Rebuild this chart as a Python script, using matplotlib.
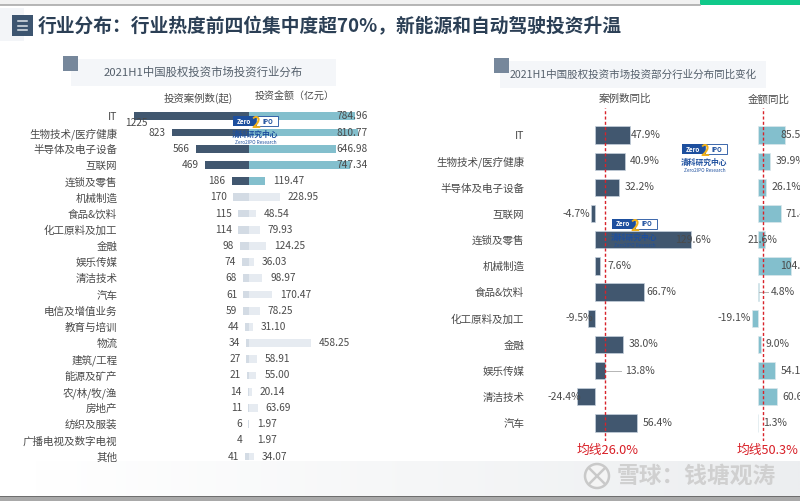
import matplotlib
matplotlib.use("Agg")
import matplotlib.pyplot as plt
from matplotlib.patches import Rectangle, Circle
import numpy as np

plt.rcParams["font.family"] = ["Noto Sans CJK SC", "DejaVu Sans"]

W, H = 800, 501

title = "行业分布：行业热度前四位集中度超70%，新能源和自动驾驶投资升温"
left_title = "2021H1中国股权投资市场投资行业分布"
right_title = "2021H1中国股权投资市场投资部分行业分布同比变化"

industries = ["IT", "生物技术/医疗健康", "半导体及电子设备", "互联网", "连锁及零售", "机械制造",
              "食品&饮料", "化工原料及加工", "金融", "娱乐传媒", "清洁技术", "汽车",
              "电信及增值业务", "教育与培训", "物流", "建筑/工程", "能源及矿产", "农/林/牧/渔",
              "房地产", "纺织及服装", "广播电视及数字电视", "其他"]
cases = [1225, 823, 566, 469, 186, 170, 115, 114, 98, 74, 68, 61, 59, 44, 34, 27, 21, 14, 11, 6, 4, 41]
amounts = [784.96, 810.77, 646.98, 747.34, 119.47, 228.95, 48.54, 79.93, 124.25, 36.03, 98.97,
           170.47, 78.25, 31.10, 458.25, 58.91, 55.00, 20.14, 63.69, 1.97, 1.97, 34.07]

yoy_industries = industries[:12]
cases_yoy = [47.9, 40.9, 32.2, -4.7, 129.6, 7.6, 66.7, -9.5, 38.0, 13.8, -24.4, 56.4]
amount_yoy = [85.5, 39.9, 26.1, 71.4, 21.6, 104.5, 4.8, -19.1, 9.0, 54.1, 60.6, 1.3]

# where the dashed lines sit in the picture, and what they are labelled
cases_line_pos = 13.5
amount_line_pos = 17.5
cases_line_label = "均线26.0%"
amount_line_label = "均线50.3%"

DARK = "#41576f"
TEAL = "#83bfcd"
TEXT = "#4a4a4a"
NAVY = "#2b3f55"

fig = plt.figure(figsize=(W / 100, H / 100), dpi=100)


def px_axes(x0, x1, y_top, y_bottom, zero_px, scale, row0, step):
    ax = fig.add_axes([x0 / W, 1 - y_bottom / H, (x1 - x0) / W, (y_bottom - y_top) / H])
    ax.set_xlim((x0 - zero_px) / scale, (x1 - zero_px) / scale)
    ax.set_ylim((y_bottom - row0) / step, (y_top - row0) / step)
    ax.patch.set_alpha(0)
    for s in ax.spines.values():
        s.set_visible(False)
    ax.set_xticks([])
    ax.set_yticks([])
    return ax


# page furniture
bg = fig.add_axes([0, 0, 1, 1], zorder=0)
bg.set_xlim(0, W)
bg.set_ylim(H, 0)
bg.axis("off")
bg.add_patch(Rectangle((0, 0), 700, 5, color="#f1f1f1", lw=0))
bg.plot([0, 700], [5, 5], color="#a9a9a9", lw=1.2)
bg.add_patch(Rectangle((700, 0), 100, 5, color="#10c98a", lw=0))
bg.add_patch(Rectangle((0, 8), 24, 33, color="#f3f5f8", lw=0))
bg.add_patch(Rectangle((12, 15), 21, 21, color="#3d5570", lw=0))
for yy in [21, 25.5, 30]:
    bg.plot([18, 27], [yy, yy], color="#dfe5ea", lw=1.1)
bg.text(38, 27, title, fontsize=13.5, fontweight="bold", color=NAVY, va="center", ha="left")

bg.add_patch(Rectangle((71, 59), 265, 27, color="#f4f6f9", lw=0))
bg.add_patch(Rectangle((63, 56), 15, 15, color="#76879b", lw=0))
bg.text(203.5, 72.5, left_title, fontsize=8.2, color="#55606c", ha="center", va="center")
bg.add_patch(Rectangle((500, 61), 266, 27, color="#f4f6f9", lw=0))
bg.add_patch(Rectangle((494, 58), 15, 15, color="#76879b", lw=0))
bg.text(633.5, 75, right_title, fontsize=7.6, color="#55606c", ha="center", va="center")

bg.text(198, 98, "投资案例数(起)", fontsize=7.5, color=TEXT, ha="center", va="center")
bg.text(295, 97, "投资金额（亿元）", fontsize=7.2, color=TEXT, ha="center", va="center")
bg.text(625, 99, "案例数同比", fontsize=7.6, color=TEXT, ha="center", va="center")
bg.text(769, 100, "金额同比", fontsize=7.6, color=TEXT, ha="center", va="center")

# watermark band and bottom edge
band = np.linspace(0, 1, 256).reshape(1, -1)
bg.imshow(band, extent=(35, 800, 497, 461), cmap=matplotlib.colors.LinearSegmentedColormap.from_list(
    "wm", ["#ffffff", "#eceef0"]), aspect="auto", zorder=0)
bg.set_xlim(0, W)
bg.set_ylim(H, 0)
bg.add_patch(Rectangle((0, 496), W, 5, color="#a9a9a9", lw=0, zorder=1))
bg.plot([0, W], [495.5, 495.5], color="#6d6d6d", lw=0.7, zorder=1)

# left panel, cases run leftwards from the same zero as the amounts
row0, step = 116.3, 16.2
rows = np.arange(len(industries))
ax_c = px_axes(120, 249, 105, 465, 249, 0.0939, row0, step)
ax_a = px_axes(249, 400, 105, 465, 249, 0.1346, row0, step)
case_colors = [DARK] * 5 + ["#d3dbe4"] * 17
amount_colors = [TEAL] * 5 + ["#e6ebf1"] * 17
ax_c.barh(rows, [-v for v in cases], height=0.47, color=case_colors)
ax_a.barh(rows, amounts, height=0.47, color=amount_colors)
ax_c.set_yticks(rows, industries, fontsize=7.6, color=TEXT)
ax_c.tick_params(axis="y", length=0, pad=2)

for i, v in enumerate(cases):
    if i == 0:
        ax_c.annotate(str(v), (-v, i), xytext=(2, -7), textcoords="offset pixels", fontsize=7.3,
                      color=TEXT, ha="center", va="center", annotation_clip=False)
    else:
        ax_c.annotate(str(v), (-v, i), xytext=(-6, 0), textcoords="offset pixels", fontsize=7.3,
                      color=TEXT, ha="right", va="center", annotation_clip=False)
amount_gap = {0: -18.7, 1: -22, 2: 0, 3: -13.6}
for i, v in enumerate(amounts):
    ax_a.annotate(f"{v:.2f}", (v, i), xytext=(amount_gap.get(i, 8), 0), textcoords="offset pixels",
                  fontsize=7.3, color=TEXT, ha="left", va="center", annotation_clip=False)

# right panel
r_row0, r_step = 135, 26.18
r_rows = np.arange(len(yoy_industries))
ax_cy = px_axes(527, 700, 108, 441, 594.7, 0.743, r_row0, r_step)
ax_ay = px_axes(700, 800, 108, 441, 757.7, 0.32, r_row0, r_step)
ax_cy.barh(r_rows, cases_yoy, height=0.66, color=DARK, edgecolor="#c5d0dc", linewidth=0.5)
ax_ay.barh(r_rows, amount_yoy, height=0.66, color=TEAL, edgecolor="#dbe7ec", linewidth=0.5)
ax_cy.set_yticks(r_rows, yoy_industries, fontsize=7.6, color=TEXT)
ax_cy.tick_params(axis="y", length=0, pad=2)

for ax, pos in [(ax_cy, cases_line_pos), (ax_ay, amount_line_pos)]:
    ax.axvline(pos, color="#d8232a", lw=1.0, ls=(0, (2.2, 1.6)), zorder=5)

case_gap = [1, 5, 6, 1, -16, 6.7, 2, -5.7, 6, 20, -4.5, 5.7]
amount_y_gap = [-5, 5.5, 5.7, 5, -16.6, -11, 11.5, 1, 5.4, 5.5, 5, 5]
for ax, vals, gaps in [(ax_cy, cases_yoy, case_gap), (ax_ay, amount_yoy, amount_y_gap)]:
    for i, v in enumerate(vals):
        g = gaps[i]
        ax.annotate(f"{v:.1f}%", (v, i), xytext=(g if v >= 0 else -g, 0), textcoords="offset pixels",
                    fontsize=7.5, color=TEXT, ha="left" if v >= 0 else "right", va="center",
                    annotation_clip=False, zorder=6)

# thin leader lines to the labels that sit away from their bars
ax_cy.plot([13.8, 36], [9, 9], color="#b5b5b5", lw=0.7, zorder=4)
ax_ay.plot([4.8, 33], [6, 6], color="#b5b5b5", lw=0.7, zorder=4)

# overlay: line captions, logos and watermark text
top = fig.add_axes([0, 0, 1, 1], zorder=10)
top.set_xlim(0, W)
top.set_ylim(H, 0)
top.axis("off")
top.patch.set_alpha(0)
top.text(608, 450, cases_line_label, fontsize=9.2, color="#d81e26", ha="center", va="center")
top.text(767, 450, amount_line_label, fontsize=9.2, color="#d81e26", ha="center", va="center")


def logo(x, y):
    top.add_patch(Rectangle((x, y), 23, 10, color="#1d4f9e", lw=0))
    top.add_patch(Rectangle((x + 23, y), 22, 10, facecolor="#ffffff", edgecolor="#1d4f9e", lw=0.6))
    top.text(x + 11, y + 5, "Zero", fontsize=4.6, fontweight="bold", style="italic", color="white",
             ha="center", va="center")
    top.text(x + 35, y + 5, "IPO", fontsize=4.4, fontweight="bold", color="#1d4f9e",
             ha="center", va="center")
    top.text(x + 23, y + 7, "2", fontsize=11, fontweight="bold", color="#f2b21b",
             ha="center", va="center")
    top.text(x + 22.5, y + 18, "清科研究中心", fontsize=5.6, fontweight="bold", color="#1d4f9e",
             ha="center", va="center")
    top.text(x + 22.5, y + 26, "Zero2IPO Research", fontsize=3.4, color="#1d4f9e",
             ha="center", va="center")


logo(233, 116)
logo(682, 144)
logo(612, 219)

top.add_patch(Circle((597, 476), 12, facecolor="#f4f4f4", edgecolor="#c9c9c9", lw=1.8))
top.plot([590, 604], [469, 483], color="#c9c9c9", lw=1.8)
top.plot([590, 604], [483, 469], color="#c9c9c9", lw=1.8)
top.text(617, 476, "雪球：钱塘观涛", fontsize=16.4, fontweight="bold", color="#d0d0d0", ha="left", va="center")

fig.savefig("out.png", dpi=100)
plt.close(fig)
